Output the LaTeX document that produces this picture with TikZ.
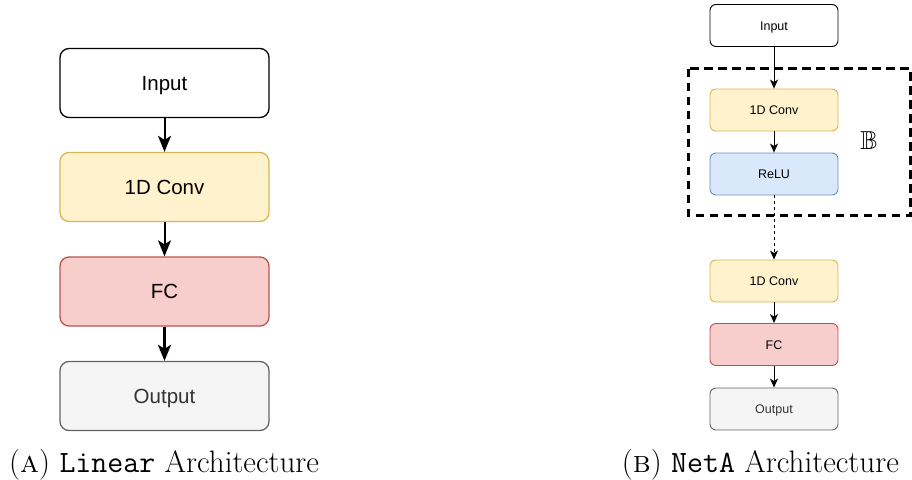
\documentclass[tikz,border=0pt]{standalone}
\usepackage{fontspec}
\usepackage{amssymb}
\usetikzlibrary{arrows.meta}
\newfontfamily\boxfont{Liberation Sans}
\definecolor{yfill}{HTML}{FFF2CC}\definecolor{ydraw}{HTML}{D6B656}
\definecolor{rfill}{HTML}{F8CECC}\definecolor{rdraw}{HTML}{B85450}
\definecolor{bfill}{HTML}{DAE8FC}\definecolor{bdraw}{HTML}{6C8EBF}
\definecolor{gfill}{HTML}{F5F5F5}\definecolor{gdraw}{HTML}{666666}
\definecolor{gtext}{HTML}{333333}
\begin{document}
\begin{tikzpicture}[x=1pt,y=-1pt,
  bigbox/.style={draw, line width=1.3pt, rounded corners=9pt, minimum width=209pt, minimum height=69pt, font=\boxfont\fontsize{20.5}{24}\selectfont, inner sep=0pt, text depth=0pt, text height=14.7pt},
  smallbox/.style={draw, line width=0.9pt, rounded corners=6pt, minimum width=128pt, minimum height=42pt, font=\boxfont\fontsize{12.5}{15}\selectfont, inner sep=0pt, text depth=0pt, text height=9pt},
  inbox/.style={fill=white, draw=black},
  ybox/.style={fill=yfill, draw=ydraw},
  rbox/.style={fill=rfill, draw=rdraw},
  bbox/.style={fill=bfill, draw=bdraw},
  gbox/.style={fill=gfill, draw=gdraw, text=gtext},
  bigarrow/.style={-{Stealth[length=16pt,width=13pt,inset=4pt]}, line width=2pt},
  smallarrow/.style={-{Stealth[length=9pt,width=8pt,inset=2.5pt]}, line width=1pt},
  captionfont/.style={font=\fontsize{31}{36}\selectfont}
]
\useasboundingbox (0,0) rectangle (912,479);
% left
\node[bigbox,inbox] (li) at (164.5,83) {Input};
\node[bigbox,ybox] (lc) at (164.5,187) {1D Conv};
\node[bigbox,rbox] (lf) at (164.5,291.5) {FC};
\node[bigbox,gbox] (lo) at (164.5,396) {Output};
\draw[bigarrow] (li) -- (lc);
\draw[bigarrow] (lc) -- (lf);
\draw[bigarrow, line width=2.8pt] (lf) -- (lo);
% right
\node[smallbox,inbox] (ri) at (774,25.5) {Input};
\draw[dash pattern=on 8.5pt off 5.5pt, line width=2.2pt] (688.5,68.5) rectangle (910.5,215.5);
\node[smallbox,ybox] (rc1) at (774,110) {1D Conv};
\node[smallbox,bbox] (rr) at (774,174) {ReLU};
\node[smallbox,ybox] (rc2) at (774,281) {1D Conv};
\node[smallbox,rbox] (rf) at (774,344.5) {FC};
\node[smallbox,gbox] (ro) at (774,409) {Output};
\node[font=\fontsize{26}{30}\selectfont] (bb) at (869,141) {$\mathbb{B}$};
\draw[smallarrow] (ri) -- (rc1);
\draw[smallarrow] (rc1) -- (rr);
\draw[smallarrow, dash pattern=on 3pt off 3pt] (rr) -- (rc2);
\draw[smallarrow] (rc2) -- (rf);
\draw[smallarrow] (rf) -- (ro);
% captions
\node[captionfont, anchor=base west, inner sep=0pt] (capa) at (9,472) {(\textsc{a}) \texttt{Linear} Architecture};
\node[captionfont, anchor=base east, inner sep=0pt] (capb) at (899,472) {(\textsc{b}) \texttt{NetA} Architecture};
\end{tikzpicture}
\end{document}
